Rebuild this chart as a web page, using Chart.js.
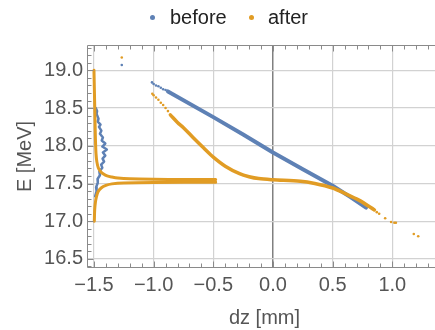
<!DOCTYPE html>
<html>
<head>
<meta charset="utf-8">
<script src="https://cdn.jsdelivr.net/npm/chart.js@4"></script>
<style>
    html, body { margin: 0; padding: 0; background: #fff; overflow: hidden; }
    #wrap { position: relative; width: 435px; height: 330px; overflow: hidden; }
    #plot { position: absolute; left: 0; top: 0; }
    .key { position: absolute; top: 5px; font-family: "Liberation Sans", Arial, sans-serif; font-size: 20px; line-height: 24px; color: #222; }
    .dot { position: absolute; top: 15px; width: 5px; height: 5px; border-radius: 50%; }
</style>
</head>
<body>
<div id="wrap">
    <canvas id="plot" width="445" height="330"></canvas>
    <span class="dot" style="left:150px;background:#5E81B5"></span>
    <span class="key" style="left:170px">before</span>
    <span class="dot" style="left:249px;background:#E19C24"></span>
    <span class="key" style="left:268px">after</span>
</div>
<script>
const xTicks = [-1.5, -1.0, -0.5, 0.0, 0.5, 1.0]
const yTicks = [16.5, 17.0, 17.5, 18.0, 18.5, 19.0]

// before: dense diagonal, sparse dots, jagged band at dz ~ -1.45
const beforeLine = [[-0.88, 18.72], [-0.5, 18.38], [-0.25, 18.15], [0, 17.91], [0.25, 17.69], [0.5, 17.47], [0.65, 17.32], [0.78, 17.18]]
const beforeSparse = [[-1.267, 19.07], [-1.014, 18.84], [-1.0, 18.82], [-0.98, 18.80], [-0.96, 18.79], [-0.94, 18.77], [-0.92, 18.75], [-0.9, 18.74]]
const beforeBand = [[-1.485, 18.50], [-1.474, 18.46], [-1.478, 18.42], [-1.462, 18.36], [-1.468, 18.32], [-1.445, 18.28], [-1.458, 18.25], [-1.438, 18.20], [-1.45, 18.16], [-1.425, 18.11], [-1.435, 18.07], [-1.405, 18.03], [-1.43, 17.99], [-1.392, 17.95], [-1.425, 17.91], [-1.405, 17.87], [-1.428, 17.83], [-1.415, 17.79], [-1.44, 17.75], [-1.43, 17.71], [-1.455, 17.66], [-1.45, 17.61], [-1.47, 17.56], [-1.468, 17.51], [-1.482, 17.45], [-1.478, 17.40], [-1.49, 17.33]]

// after: two branches near dz = -1.5, main curve, sparse dots
const afterUpper = [[-1.5, 19.0], [-1.496, 18.7], [-1.492, 18.4], [-1.488, 18.1], [-1.483, 17.9], [-1.476, 17.79], [-1.464, 17.71], [-1.445, 17.66], [-1.42, 17.625], [-1.39, 17.6], [-1.35, 17.585], [-1.3, 17.572], [-1.2, 17.562], [-1.0, 17.556], [-0.75, 17.553], [-0.48, 17.553]]
const afterLower = [[-1.497, 17.0], [-1.494, 17.15], [-1.488, 17.25], [-1.48, 17.32], [-1.466, 17.39], [-1.44, 17.44], [-1.4, 17.475], [-1.35, 17.495], [-1.25, 17.508], [-1.0, 17.515], [-0.48, 17.518]]
const afterCurve = [[-0.86, 18.41], [-0.8, 18.31], [-0.75, 18.24], [-0.67, 18.11], [-0.58, 17.97], [-0.5, 17.85], [-0.4, 17.73], [-0.28, 17.63], [-0.2, 17.59], [-0.12, 17.565], [0, 17.55], [0.23, 17.53], [0.35, 17.5], [0.5, 17.44], [0.6, 17.37], [0.72, 17.28], [0.85, 17.15]]
const afterSparse = [[-1.267, 19.17], [-1.011, 18.69], [-1.0, 18.67], [-0.98, 18.64], [-0.96, 18.61], [-0.94, 18.57], [-0.92, 18.54], [-0.9, 18.50], [-0.88, 18.46], [0.87, 17.12], [0.89, 17.10], [0.94, 17.04], [0.99, 16.99], [1.017, 16.98], [1.03, 16.98], [1.18, 16.83], [1.217, 16.80]]

const blue = "#5E81B5"
const orange = "#E19C24"

const toPoints = (pairs) => pairs.map(([x, y]) => ({ x, y }))

const lineSet = (label, pairs, color, width, order, tension) => ({
    label,
    data: toPoints(pairs),
    showLine: true,
    borderColor: color,
    borderWidth: width,
    borderCapStyle: "round",
    borderJoinStyle: "round",
    pointRadius: 0,
    tension,
    order
})

const dotSet = (label, pairs, color, order) => ({
    label,
    data: toPoints(pairs),
    showLine: false,
    pointRadius: 1.3,
    pointBorderWidth: 0,
    backgroundColor: color,
    borderColor: color,
    order
})

const fmt = (v) => v.toFixed(1).replace("-", "\u2212")

// Mathematica-like frame with inward major/minor ticks
const framePlugin = {
    id: "frame",
    afterDraw(chart) {
        const { ctx, chartArea: a, scales: { x, y } } = chart
        const l = a.left - 0.5, t = a.top + 0.5, b = a.bottom - 0.5, r = a.right + 0.5
        ctx.save()
        ctx.strokeStyle = "#8a8a8a"
        ctx.lineWidth = 1
        ctx.beginPath()
        ctx.moveTo(r, t); ctx.lineTo(l, t); ctx.lineTo(l, b); ctx.lineTo(r, b)
        ctx.stroke()

        ctx.beginPath()
        for (let i = Math.ceil(x.min * 10); i <= Math.floor(x.max * 10); i++) {
            const px = Math.round(x.getPixelForValue(i / 10)) + 0.5
            const len = i % 5 === 0 ? 6 : 4
            ctx.moveTo(px, t); ctx.lineTo(px, t + len)
            ctx.moveTo(px, b); ctx.lineTo(px, b - len)
        }
        for (let i = Math.ceil(y.min * 10); i <= Math.floor(y.max * 10); i++) {
            const py = Math.round(y.getPixelForValue(i / 10)) + 0.5
            const len = i % 5 === 0 ? 6 : 4
            ctx.moveTo(l, py); ctx.lineTo(l + len, py)
        }
        ctx.stroke()
        ctx.restore()
    }
}

Chart.defaults.font.family = "'Liberation Sans', Arial, sans-serif"

const ctx = document.getElementById("plot").getContext("2d")

new Chart(ctx, {
    type: "scatter",
    data: {
        datasets: [
            lineSet("after", afterUpper, orange, 3, 0, 0.3),
            lineSet("after", afterLower, orange, 3, 0, 0.3),
            lineSet("after", afterCurve, orange, 3.5, 0, 0.3),
            dotSet("after", afterSparse, orange, 0),
            lineSet("before", beforeLine, blue, 4, 1, 0),
            dotSet("before", beforeSparse, blue, 1),
            lineSet("before", beforeBand, blue, 2.5, 1, 0)
        ]
    },
    plugins: [framePlugin],
    options: {
        responsive: false,
        animation: false,
        layout: { padding: { top: 45, right: 2, left: 0, bottom: 0 } },
        plugins: {
            legend: { display: false },
            tooltip: { enabled: false }
        },
        scales: {
            x: {
                type: "linear",
                min: -1.55,
                max: 1.408,
                afterFit: (scale) => { scale.height = 62 },
                afterBuildTicks: (scale) => { scale.ticks = xTicks.map(v => ({ value: v })) },
                border: { display: false },
                grid: {
                    drawTicks: false,
                    color: (c) => c.tick && c.tick.value === 0 ? "#808080" : "#d2d2d2",
                    lineWidth: (c) => c.tick && c.tick.value === 0 ? 1.5 : 1.2
                },
                ticks: {
                    autoSkip: false,
                    maxRotation: 0,
                    padding: 5,
                    color: "#555",
                    font: { size: 20 },
                    callback: (v) => fmt(v)
                },
                title: {
                    display: true,
                    text: "dz [mm]",
                    color: "#555",
                    font: { size: 20 },
                    padding: { top: 0, bottom: 0 }
                }
            },
            y: {
                type: "linear",
                min: 16.38,
                max: 19.336,
                afterFit: (scale) => { scale.width = 88 },
                afterBuildTicks: (scale) => { scale.ticks = yTicks.map(v => ({ value: v })) },
                border: { display: false },
                grid: {
                    drawTicks: false,
                    color: "#d2d2d2",
                    lineWidth: 1.2
                },
                ticks: {
                    autoSkip: false,
                    padding: 5,
                    color: "#555",
                    font: { size: 20 },
                    callback: (v) => fmt(v)
                },
                title: {
                    display: true,
                    text: "E [MeV]",
                    color: "#555",
                    font: { size: 20 },
                    padding: { top: 13, bottom: 0 }
                }
            }
        }
    }
})
</script>
</body>
</html>
